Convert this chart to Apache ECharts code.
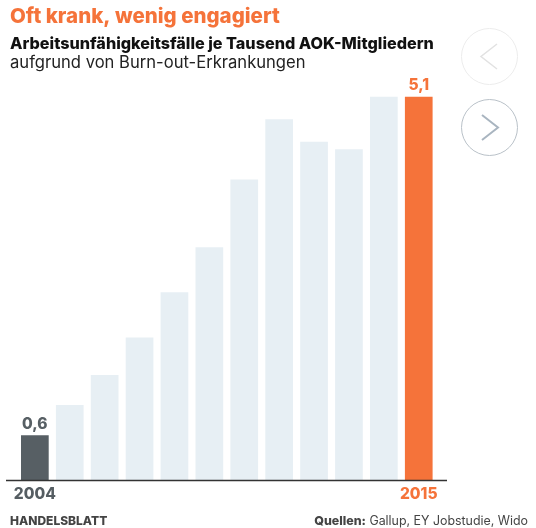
<!DOCTYPE html>
<html>
<head>
<meta charset="utf-8">
<script src="https://cdn.jsdelivr.net/npm/echarts@6/dist/echarts.min.js"></script>
<style>
html,body{margin:0;padding:0;background:#fff;}
#c{width:536px;height:528px;}
</style>
</head>
<body>
<div id="c"></div>
<script>
const years = ['2004','2005','2006','2007','2008','2009','2010','2011','2012','2013','2014','2015'];
const values = [0.6, 1.0, 1.4, 1.9, 2.5, 3.1, 4.0, 4.8, 4.5, 4.4, 5.1, 5.1];
const valueLabels = ['0,6', '', '', '', '', '', '', '', '', '', '', '5,1'];

const DARK = '#575f64', LIGHT = '#e7eff4', ORANGE = '#f5733a';
const last = years.length - 1;
const FONT = 'Inter';

const chart = echarts.init(document.getElementById('c'), null, {renderer: 'canvas'});
const data = values.map((v, i) => {
  const c = i === 0 ? DARK : (i === last ? ORANGE : LIGHT);
  const item = {value: v, itemStyle: {color: c}};
  if (valueLabels[i]) {
    item.label = {show: true, position: 'top', distance: 3, formatter: valueLabels[i],
      color: c, fontFamily: FONT, fontWeight: 800, fontSize: 15.5};
  }
  return item;
});

chart.setOption({
  animation: false,
  title: [
    {text: 'Oft krank, wenig engagiert', left: 5, top: 1,
     textStyle: {color: '#f5733a', fontFamily: FONT, fontWeight: 800, fontSize: 20.5}},
    {text: 'Arbeitsunfähigkeitsfälle je Tausend AOK-Mitgliedern', left: 5, top: 31,
     textStyle: {color: '#111', fontFamily: FONT, fontWeight: 800, fontSize: 16.2}},
    {text: 'aufgrund von Burn-out-Erkrankungen', left: 5, top: 49,
     textStyle: {color: '#222', fontFamily: FONT, fontWeight: 'normal', fontSize: 16.6}},
    {text: 'HANDELSBLATT', left: 5, top: 510,
     textStyle: {color: '#444', fontFamily: FONT, fontWeight: 800, fontSize: 12}},
    {text: '{b|Quellen:} Gallup, EY Jobstudie, Wido', right: 3, top: 510,
     textStyle: {color: '#444', fontFamily: FONT, fontWeight: 'normal', fontSize: 12.4,
       rich: {b: {fontWeight: 800, color: '#444', fontFamily: FONT, fontSize: 12.4}}}}
  ],
  grid: {left: 17.4, width: 418.8, top: 29, height: 451.3},
  xAxis: {
    type: 'category', data: years,
    axisLine: {show: false}, axisTick: {show: false},
    axisLabel: {
      interval: 0, margin: 6,
      formatter: (v, i) => i === 0 ? '{d|' + v + '}' : (i === last ? '{o|' + v + '}' : ''),
      rich: {
        d: {color: '#555d62', fontFamily: FONT, fontWeight: 800, fontSize: 15.5},
        o: {color: ORANGE, fontFamily: FONT, fontWeight: 800, fontSize: 15.5}
      }
    }
  },
  yAxis: {type: 'value', min: 0, max: 6, show: false, splitLine: {show: false}},
  series: [{type: 'bar', data: data, barWidth: 27.7}],
  graphic: [
    {type: 'line', shape: {x1: 6, y1: 480.5, x2: 447, y2: 480.5},
     style: {stroke: '#333', lineWidth: 1.5}, z: 10},
    {type: 'circle', shape: {cx: 489.5, cy: 56.5, r: 28},
     style: {fill: 'none', stroke: '#ececec', lineWidth: 1}},
    {type: 'polyline', shape: {points: [[497, 44], [481, 56.5], [497, 69]]},
     style: {fill: 'none', stroke: '#e2e2e2', lineWidth: 1.5}},
    {type: 'circle', shape: {cx: 489.5, cy: 127.5, r: 28},
     style: {fill: 'none', stroke: '#b9c1c8', lineWidth: 1}},
    {type: 'polyline', shape: {points: [[482, 115], [498, 127.5], [482, 140]]},
     style: {fill: 'none', stroke: '#a9b5c0', lineWidth: 2}}
  ]
});
</script>
</body>
</html>
